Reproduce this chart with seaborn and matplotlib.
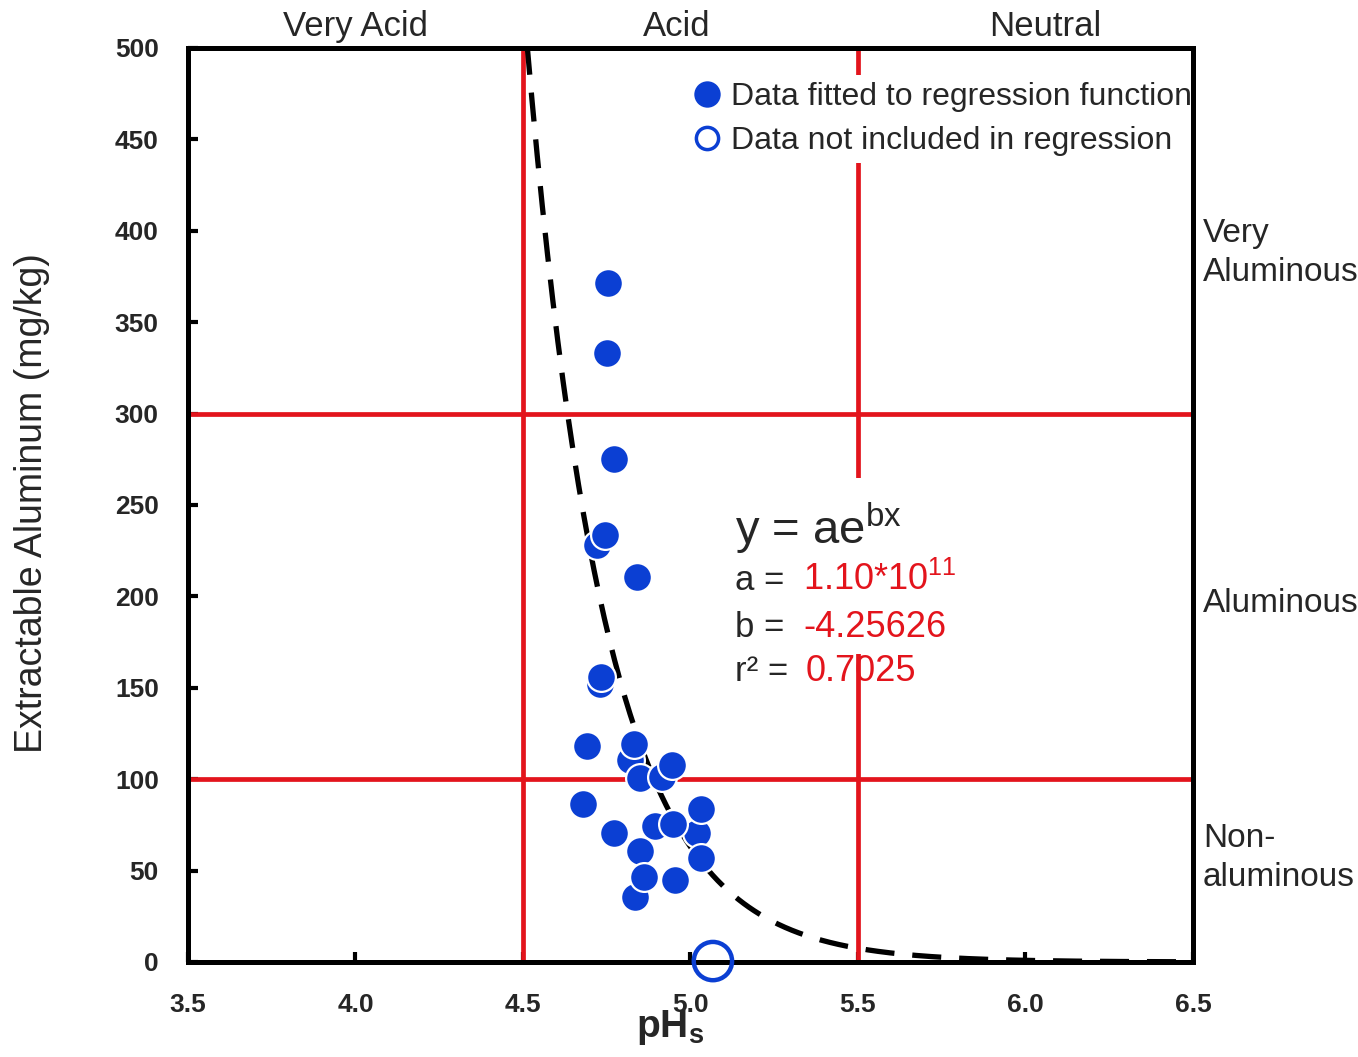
import numpy as np
import pandas as pd
import seaborn as sns
import matplotlib
matplotlib.use("Agg")
import matplotlib.pyplot as plt
from matplotlib import font_manager
from matplotlib.lines import Line2D
from matplotlib.patches import Rectangle

# ---------------- data ----------------
ph_fit = [4.720, 4.731, 4.819, 4.849, 4.914, 5.018, 4.894, 4.834,
          4.753, 4.751, 4.773, 4.745, 4.841, 4.733, 4.831, 4.690,
          4.944, 4.680, 5.031, 4.949, 4.772, 4.849, 5.031, 4.861, 4.954]
al_fit = [228.0, 152.0, 110.5, 100.6, 101.4, 70.6, 74.4, 35.7,
          371.6, 333.0, 275.2, 233.6, 210.8, 156.0, 119.0, 118.2,
          108.0, 86.2, 83.5, 75.3, 70.4, 60.9, 57.0, 46.7, 44.9]
ph_out = [5.067]
al_out = [0.5]

coef_a = 1.10e11
coef_b = -4.25626
r_squared = 0.7025

ph_classes = ["Very Acid", "Acid", "Neutral"]
ph_class_pos = [4.0, 4.96, 6.06]
ph_bounds = [4.5, 5.5]
al_classes = ["Very\nAluminous", "Aluminous", "Non-\naluminous"]
al_class_pos = [388, 196, 57]
al_bounds = [100, 300]

xticks = [3.5, 4.0, 4.5, 5.0, 5.5, 6.0, 6.5]
yticks = [0, 50, 100, 150, 200, 250, 300, 350, 400, 450, 500]

# ---------------- style ----------------
sns.set_style("white")
names = {f.name for f in font_manager.fontManager.ttflist}
NARROW = "Liberation Sans Narrow" if "Liberation Sans Narrow" in names else "Liberation Sans"
plt.rcParams["font.family"] = ["Liberation Sans", "DejaVu Sans"]
plt.rcParams["mathtext.fontset"] = "custom"
plt.rcParams["mathtext.rm"] = "Liberation Sans"

BLUE = "#0b3fd3"
RED = "#e3141c"

fig = plt.figure(figsize=(13.58, 10.57), dpi=100)
ax = fig.add_axes([0.1384, 0.0899, 0.8785 - 0.1384, 0.9546 - 0.0899])

# regression curve (from the fitted equation shown on the chart)
xc = np.linspace(4.45, 6.5, 400)
curve = pd.DataFrame({"x": xc, "y": coef_a * np.exp(coef_b * xc)})
sns.lineplot(data=curve, x="x", y="y", ax=ax, color="black", lw=3.8,
             linestyle=(0, (5.5, 3.4)), zorder=3, sort=False)

# class boundary lines
for v in ph_bounds:
    ax.axvline(v, color=RED, lw=3.4, zorder=2)
for h in al_bounds:
    ax.axhline(h, color=RED, lw=3.4, zorder=2)

# white mask behind equation block
ax.add_patch(Rectangle((0.535, 0.337), 0.25, 0.193, transform=ax.transAxes,
                       facecolor="white", edgecolor="none", zorder=2.5))

df_fit = pd.DataFrame({"pH": ph_fit, "Al": al_fit})
sns.scatterplot(data=df_fit, x="pH", y="Al", ax=ax, s=430, color=BLUE,
                edgecolor="white", linewidth=1.6, zorder=4, legend=False)
df_out = pd.DataFrame({"pH": ph_out, "Al": al_out})
sns.scatterplot(data=df_out, x="pH", y="Al", ax=ax, s=760, facecolor="none",
                edgecolor=BLUE, linewidth=3.2, zorder=6, legend=False, clip_on=False)

ax.set_xlim(3.5, 6.5)
ax.set_ylim(0, 500)
ax.set_xticks(xticks)
ax.set_xticklabels([f"{t:.1f}" for t in xticks])
ax.set_yticks(yticks)
ax.set_yticklabels([str(t) for t in yticks])
ax.tick_params(axis="both", direction="in", length=7, width=3, color="black",
               bottom=True, left=True, top=False, right=False)
ax.tick_params(axis="x", pad=22)
ax.tick_params(axis="y", pad=21)
for lab in ax.get_xticklabels() + ax.get_yticklabels():
    lab.set_fontfamily([NARROW, "Liberation Sans"])
    lab.set_fontweight("bold")
    lab.set_fontsize(19)

for sp in ax.spines.values():
    sp.set_visible(True)
    sp.set_color("black")
    sp.set_linewidth(3.6)
    sp.set_zorder(5)

ax.set_xlabel(r"pH$_\mathregular{s}$", fontsize=28, fontweight="bold")
ax.xaxis.set_label_coords(0.48, -0.05)
ax.set_ylabel("Extractable Aluminum (mg/kg)", fontsize=27)
ax.yaxis.set_label_coords(-0.137, 0.502)

# top pH-class labels
trans_top = matplotlib.transforms.blended_transform_factory(ax.transData, ax.transAxes)
for lbl, xp in zip(ph_classes, ph_class_pos):
    ax.text(xp, 1.013, lbl, transform=trans_top, ha="center", va="baseline",
            fontsize=25, family=[NARROW, "Liberation Sans"])

# right Al-class labels
trans_right = matplotlib.transforms.blended_transform_factory(ax.transAxes, ax.transData)
for lbl, yp in zip(al_classes, al_class_pos):
    ax.text(1.01, yp, lbl, transform=trans_right, ha="left", va="center",
            fontsize=24, linespacing=1.35, clip_on=False)

# equation block
ax.text(5.133, 229, r"y = ae$^{\mathregular{bx}}$", fontsize=34, ha="left",
        va="baseline", zorder=7)
ax.text(5.133, 203.5, "a = ", fontsize=25, ha="left", va="baseline", zorder=7)
ax.text(5.336, 203.5, r"1.10*10$^{\mathregular{11}}$", fontsize=26, color=RED,
        ha="left", va="baseline", zorder=7)
ax.text(5.133, 178, "b = ", fontsize=25, ha="left", va="baseline", zorder=7)
ax.text(5.336, 178, f"{coef_b:.5f}", fontsize=26, color=RED,
        ha="left", va="baseline", zorder=7)
ax.text(5.133, 153.5, "r² = ", fontsize=25, ha="left", va="baseline", zorder=7)
ax.text(5.345, 153.5, f"{r_squared:.4f}", fontsize=26, color=RED,
        ha="left", va="baseline", zorder=1.5)

# legend
handles = [
    Line2D([], [], marker="o", ls="none", markersize=19, markerfacecolor=BLUE,
           markeredgecolor=BLUE, markeredgewidth=0),
    Line2D([], [], marker="o", ls="none", markersize=16, markerfacecolor="white",
           markeredgecolor=BLUE, markeredgewidth=2.5),
]
leg = ax.legend(handles, ["Data fitted to regression function",
                          "Data not included in regression"],
                loc="upper left", bbox_to_anchor=(0.496, 0.97), fontsize=23,
                frameon=True, framealpha=1, edgecolor="white", facecolor="white",
                handlelength=0.9, handletextpad=0.3, labelspacing=0.45,
                borderpad=0.2, borderaxespad=0)
leg.get_frame().set_linewidth(0)
leg.set_zorder(4.5)

fig.savefig("out.png", dpi=100)
